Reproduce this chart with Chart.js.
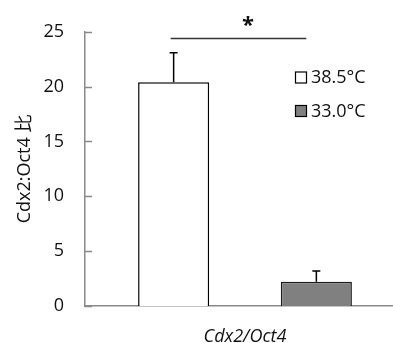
<!DOCTYPE html>
<html>
<head>
<meta charset="utf-8">
<script src="https://cdn.jsdelivr.net/npm/chart.js@4"></script>
<style>
  html, body { margin: 0; padding: 0; background: #fff; }
  body { width: 393px; height: 343px; overflow: hidden; }
  #wrap { width: 405px; height: 343px; }
  canvas { display: block; }
</style>
</head>
<body>
<div id="wrap"><canvas id="ratioChart" width="405" height="343"></canvas></div>
<script>
// chart data
const categories = ['Cdx2/Oct4'];
const seriesLabels = ['38.5°C', '33.0°C'];
const seriesValues = [[20.4], [2.2]];
const seriesErrors = [[2.7], [1.0]];
const yTicks = [0, 5, 10, 15, 20, 25];
const sigLevel = [24.4];
const sigMark = ['*'];

const FONT = "'Open Sans', 'Noto Sans CJK JP', sans-serif";
const AXIS_GREY = '#898989';

// inward tick marks on the y axis
const innerTicks = {
  id: 'innerTicks',
  afterDraw(chart) {
    const y = chart.scales.y;
    const ctx = chart.ctx;
    ctx.save();
    ctx.strokeStyle = AXIS_GREY;
    ctx.lineWidth = 1.5;
    y.ticks.forEach(t => {
      const py = Math.round(y.getPixelForValue(t.value)) + 0.5;
      ctx.beginPath();
      ctx.moveTo(y.right, py);
      ctx.lineTo(y.right + 7, py);
      ctx.stroke();
    });
    ctx.restore();
  }
};

// error bars, significance bar and the legend
const extras = {
  id: 'extras',
  afterDatasetsDraw(chart) {
    const ctx = chart.ctx;
    const yScale = chart.scales.y;
    const xScale = chart.scales.x;
    ctx.save();
    ctx.strokeStyle = '#000';
    ctx.lineWidth = 1.5;
    chart.data.datasets.forEach((ds, i) => {
      const meta = chart.getDatasetMeta(i);
      meta.data.forEach((bar, j) => {
        const top = yScale.getPixelForValue(ds.data[j] + seriesErrors[i][j]);
        ctx.beginPath();
        ctx.moveTo(bar.x, bar.y);
        ctx.lineTo(bar.x, top);
        ctx.moveTo(bar.x - 4, top);
        ctx.lineTo(bar.x + 4, top);
        ctx.stroke();
      });
    });

    // significance line
    const b1 = chart.getDatasetMeta(0).data[0];
    const b2 = chart.getDatasetMeta(1).data[0];
    const sy = yScale.getPixelForValue(sigLevel[0]);
    ctx.strokeStyle = '#333';
    ctx.beginPath();
    ctx.moveTo(b1.x - 3, sy);
    ctx.lineTo(b2.x - 10, sy);
    ctx.stroke();
    ctx.fillStyle = '#111';
    ctx.font = "bold 22px " + FONT;
    ctx.textAlign = 'center';
    ctx.textBaseline = 'middle';
    ctx.fillText(sigMark[0], xScale.getPixelForValue(0) + 3, sy - 13);

    // legend
    ctx.font = "18px " + FONT;
    ctx.textAlign = 'left';
    chart.data.datasets.forEach((ds, i) => {
      const ly = 78 + i * 33.5;
      ctx.fillStyle = ds.backgroundColor;
      ctx.fillRect(295.5, ly - 6, 11, 11);
      ctx.strokeStyle = '#000';
      ctx.lineWidth = 1.2;
      ctx.strokeRect(295.5, ly - 6, 11, 11);
      ctx.fillStyle = '#111';
      ctx.fillText(ds.label, 311, ly);
    });
    ctx.restore();
  }
};

const ctx = document.getElementById('ratioChart').getContext('2d');
new Chart(ctx, {
  type: 'bar',
  data: {
    labels: categories,
    datasets: [
      {
        label: seriesLabels[0],
        data: seriesValues[0],
        backgroundColor: '#ffffff',
        borderColor: '#000000',
        borderWidth: 1.5
      },
      {
        label: seriesLabels[1],
        data: seriesValues[1],
        backgroundColor: '#808080',
        borderColor: '#1a1a1a',
        borderWidth: 1.5
      }
    ]
  },
  options: {
    responsive: false,
    animation: false,
    devicePixelRatio: 1,
    categoryPercentage: 0.892,
    barPercentage: 0.498,
    layout: { padding: { top: 25, right: 0, bottom: 0, left: 0 } },
    plugins: {
      legend: { display: false },
      tooltip: { enabled: false }
    },
    scales: {
      x: {
        afterFit(scale) {
          scale.height = 37;
        },
        grid: { display: false, drawTicks: false },
        border: { color: AXIS_GREY, width: 1.5 },
        ticks: {
          color: '#111',
          padding: 20,
          font: { family: FONT, size: 18, style: 'italic' }
        }
      },
      y: {
        min: 0,
        max: 25,
        afterBuildTicks(scale) {
          scale.ticks = yTicks.map(v => ({ value: v }));
        },
        afterFit(scale) {
          scale.width = 85;
        },
        grid: { display: false, drawTicks: false },
        border: { color: AXIS_GREY, width: 1.5 },
        ticks: {
          color: '#111',
          padding: 21,
          font: { family: FONT, size: 18 }
        },
        title: {
          display: true,
          text: 'Cdx2:Oct4 比',
          color: '#111',
          padding: { top: 14, bottom: 0 },
          font: { family: FONT, size: 18 }
        }
      }
    }
  },
  plugins: [innerTicks, extras]
});
</script>
</body>
</html>
